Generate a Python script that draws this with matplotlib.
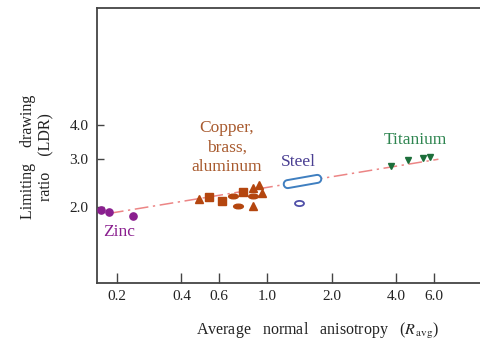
import numpy as np
import matplotlib
matplotlib.use('Agg')
import matplotlib.pyplot as plt
from matplotlib.path import Path
from matplotlib.transforms import Affine2D

# Data
zinc_r = [0.169, 0.184, 0.239]
zinc_ldr = [1.945, 1.907, 1.853]

cu_tri_r = [0.485, 0.860, 0.920, 0.953, 0.860]
cu_tri_ldr = [2.134, 2.339, 2.404, 2.241, 2.012]
cu_sq_r = [0.540, 0.617, 0.778]
cu_sq_ldr = [2.173, 2.099, 2.260]
cu_ell_r = [0.694, 0.737, 0.865]
cu_ell_ldr = [2.194, 2.012, 2.189]

steel_band_r = [1.451]
steel_band_ldr = [2.484]
steel_small_r = [1.405]
steel_small_ldr = [2.064]

ti_r = [3.76, 4.55, 5.30, 5.76]
ti_ldr = [2.822, 2.974, 3.025, 3.059]

trend_r = [0.186, 6.28]
trend_ldr = [1.89, 2.99]

x_ticks = [0.2, 0.4, 0.6, 1.0, 2.0, 4.0, 6.0]
x_labels = ['0.2', '0.4', '0.6', '1.0', '2.0', '4.0', '6.0']
y_ticks = [2.0, 3.0, 4.0]
y_labels = ['2.0', '3.0', '4.0']

# Colours
ZINC = '#8a1f8f'
COPPER = '#b4460f'
COPPER_TXT = '#a85a2e'
STEEL = '#3f7fc0'
STEEL_TXT = '#4a3f92'
TI = '#1c6e3a'
TI_TXT = '#2e8550'

plt.rcParams['font.family'] = ['Liberation Serif', 'DejaVu Serif']
plt.rcParams['mathtext.fontset'] = 'stix'


def ellipse_marker(w, h, angle=0):
    """flattened circle path usable as a marker"""
    p = Path.unit_circle()
    t = Affine2D().scale(w, h).rotate_deg(angle)
    return t.transform_path(p)


def capsule_marker(length, thick, angle):
    """rounded bar (capsule) rotated by angle"""
    r = thick / 2.0
    half = length / 2.0 - r
    th1 = np.linspace(-np.pi / 2, np.pi / 2, 20)
    th2 = np.linspace(np.pi / 2, 3 * np.pi / 2, 20)
    xs = np.concatenate([half + r * np.cos(th1), -half + r * np.cos(th2)])
    ys = np.concatenate([r * np.sin(th1), r * np.sin(th2)])
    verts = np.column_stack([xs, ys])
    verts = Affine2D().rotate_deg(angle).transform(verts)
    verts = np.vstack([verts, verts[:1]])
    codes = [Path.MOVETO] + [Path.LINETO] * (len(verts) - 2) + [Path.CLOSEPOLY]
    return Path(verts, codes)


fig = plt.figure(figsize=(4.81, 3.45), dpi=100)
ax = fig.add_axes([0.2017, 0.1806, 0.80, 0.7962])

ax.set_xscale('log')
ax.set_yscale('log')
ax.set_xlim(0.162, 10.0)
ax.set_ylim(1.048, 10.8)

# Trend line
ax.plot(trend_r, trend_ldr, color='#ec8585', lw=1.1, ls=(0, (9, 3, 1.5, 3)), zorder=1)

# Zinc
ax.plot(zinc_r, zinc_ldr, 'o', color=ZINC, ms=5.2, zorder=3)

# Copper, brass, aluminum
ax.plot(cu_tri_r, cu_tri_ldr, '^', color=COPPER, ms=5.3, zorder=3)
ax.plot(cu_sq_r, cu_sq_ldr, 's', color=COPPER, ms=5.3, zorder=3)
ax.plot(cu_ell_r, cu_ell_ldr, marker=ellipse_marker(2.0, 0.95), ls='none',
        color=COPPER, ms=7, zorder=3)

# Steel
ax.plot(steel_band_r, steel_band_ldr, marker=capsule_marker(38, 8, 10), ls='none',
        mfc='white', mec=STEEL, mew=1.4, ms=27, zorder=3)
ax.plot(steel_small_r, steel_small_ldr, marker=ellipse_marker(2.0, 1.15), ls='none',
        mfc='white', mec='#5050a8', mew=1.3, ms=6.5, zorder=3)

# Titanium
ax.plot(ti_r, ti_ldr, 'v', color=TI, ms=5, zorder=3)

# Group labels
ax.text(0.651, 3.304, 'Copper,\nbrass,\naluminum', color=COPPER_TXT, fontsize=12.5,
        ha='center', va='center', linespacing=1.3)
ax.text(1.402, 2.917, 'Steel', color=STEEL_TXT, fontsize=12.5, ha='center', va='center')
ax.text(4.90, 3.525, 'Titanium', color=TI_TXT, fontsize=12.5, ha='center', va='center')
ax.text(0.2056, 1.608, 'Zinc', color=ZINC, fontsize=12.5, ha='center', va='center')

# Axes styling
ax.xaxis.set_major_locator(matplotlib.ticker.FixedLocator(x_ticks))
ax.xaxis.set_minor_locator(matplotlib.ticker.NullLocator())
ax.set_xticklabels(x_labels)
ax.yaxis.set_major_locator(matplotlib.ticker.FixedLocator(y_ticks))
ax.yaxis.set_minor_locator(matplotlib.ticker.NullLocator())
ax.set_yticklabels(y_labels)

ax.tick_params(axis='x', direction='in', length=7, width=1, color='#444444',
               labelsize=11, pad=5, labelcolor='#222222')
ax.tick_params(axis='y', direction='in', length=5, width=1, color='#444444',
               labelsize=11, pad=6, labelcolor='#222222')

for side in ['left', 'bottom', 'top']:
    ax.spines[side].set_color('#444444')
    ax.spines[side].set_linewidth(1.3)
ax.spines['right'].set_visible(False)

fig.text(318 / 481, 1 - 331 / 345,
         'Average   normal   anisotropy   ($R_{\\,\\mathrm{avg}}$)',
         ha='center', va='center', fontsize=11.5, color='#222222')
fig.text(37 / 481, 1 - 157 / 345, 'Limiting    drawing\nratio    (LDR)',
         rotation=90, ha='center', va='center', fontsize=11.5,
         color='#222222', linespacing=1.25, multialignment='center')

fig.savefig('out.png', dpi=100)
